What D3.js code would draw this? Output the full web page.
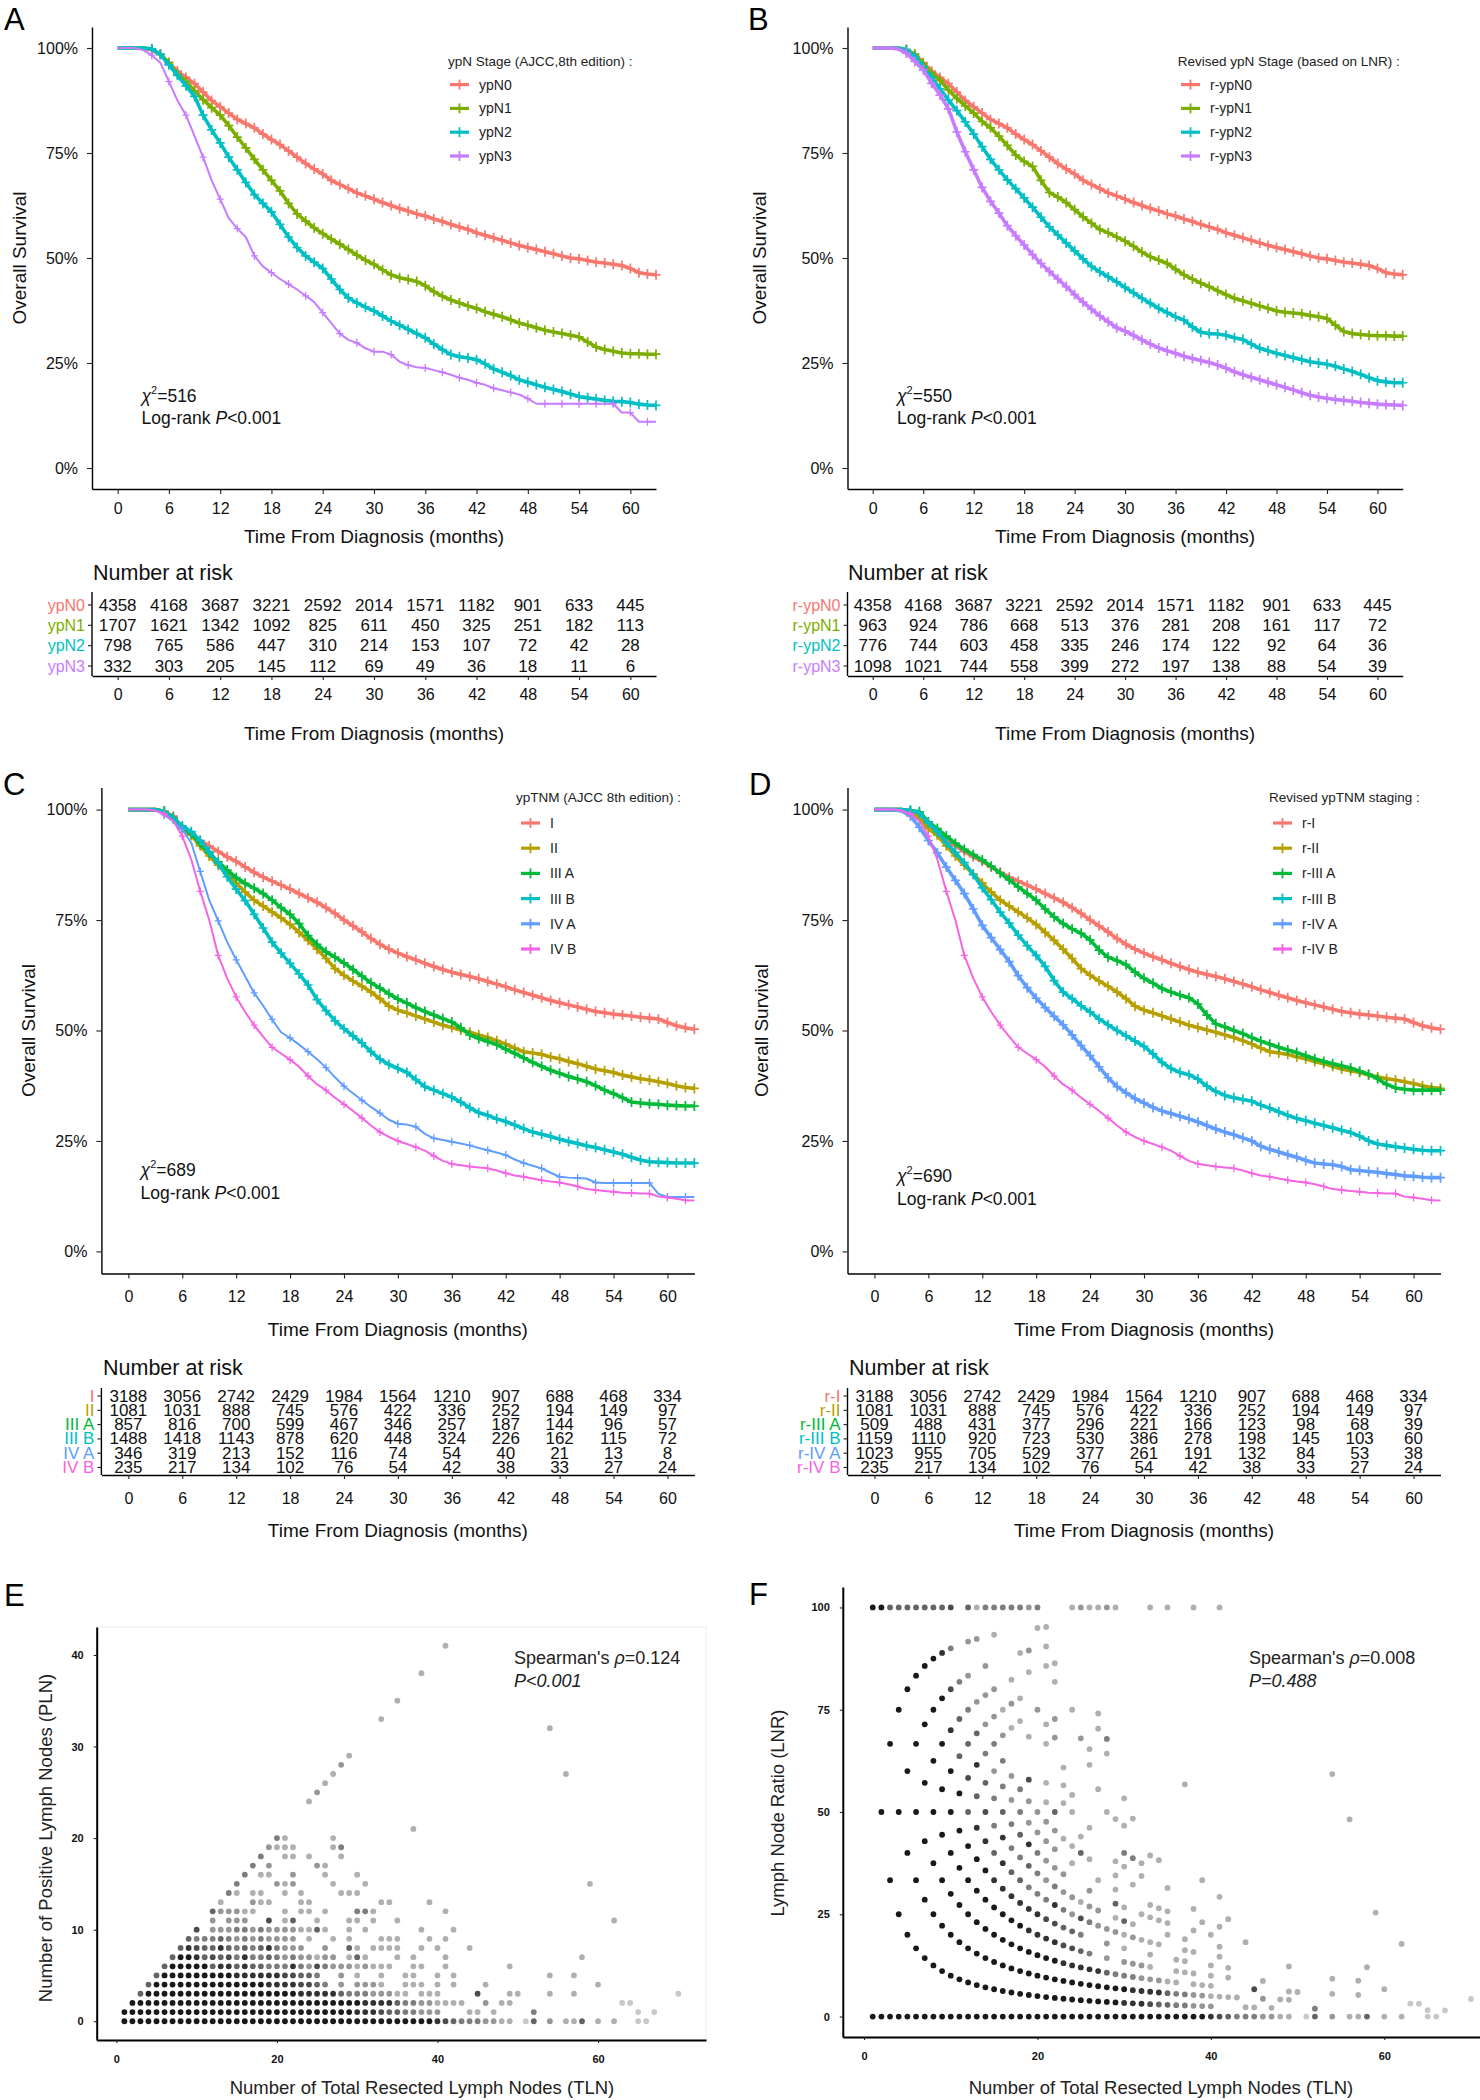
<!DOCTYPE html>
<html><head><meta charset="utf-8">
<script src="https://cdnjs.cloudflare.com/ajax/libs/d3/7.8.5/d3.min.js"></script>
<style>
html,body{margin:0;padding:0;background:#fff;}
svg{display:block;}
svg text{font-family:"Liberation Sans",Arial,Helvetica,sans-serif;}
</style></head><body>
<svg id="fig" width="1480" height="2100" viewBox="0 0 1480 2100"></svg>
<script>
// ================= DATA =================
const monthGrid=[0,1,2,3,4,5,6,7,8,9,10,11,12,13,14,15,16,17,18,19,20,21,22,23,24,25,26,27,28,29,30,31,32,33,34,35,36,37,38,39,40,41,42,43,44,45,46,47,48,49,50,51,52,53,54,55,56,57,58,59,60,61,62,63];
const riskTimes=[0,6,12,18,24,30,36,42,48,54,60];
const survTicks=[0,0.25,0.5,0.75,1];

// Panel A: ypN (AJCC 8th)
const ypNNames=["ypN0","ypN1","ypN2","ypN3"];
const survYpN0=[100,100,100,100,99.5,98.5,96.5,94.5,93,91.5,89.5,87.5,86,84.5,83,82,81,79.5,78.2,77,75.5,74,72.5,71.2,70,68.5,67.5,66.5,65.5,64.8,64,63.2,62.5,61.8,61.2,60.5,60,59.3,58.7,58,57.4,56.8,56,55.4,54.8,54.2,53.6,53,52.5,52,51.5,51,50.5,50,49.8,49.4,49,48.8,48.5,48.2,47.5,46.5,46.2,46];
const survYpN1=[100,100,100,100,99.7,98.5,96.5,93.8,92,89.8,87.7,85.8,84,81.5,78.8,76.2,73.5,71,68.5,66,63,60.5,58.8,57.2,55.8,54.5,53.3,52,50.7,49.5,48.5,47.2,46,45.3,44.9,44.4,43.4,42,40.9,40,39.3,38.6,38,37.2,36.6,36,35.3,34.5,34,33.4,32.8,32.4,32,31.6,31.2,30,28.8,28.2,27.8,27.4,27.2,27.2,27.1,27.1];
const survYpN2=[100,100,100,100,99.8,98.5,96,93.5,91,88.5,84,80.5,77.4,74,71,68,65.1,63,61,58,55,52.5,50.5,49,47.5,45,42.5,40.5,39.3,38.3,37.4,36.2,35,34,33,32,31,29.5,28.2,27,26.5,26.2,25.8,24.8,23.6,22.8,22,21,20.4,19.8,19.2,18.7,18.2,17.6,17,16.7,16.4,16.1,15.9,15.8,15.6,15.2,15,14.9];
const survYpN3=[100,100,100,99.5,98.3,96.5,92,87.5,84,79,74,68.5,64,59.5,57,55,50.5,48,46.5,45,43.8,42.5,41,39.5,37,34.5,32,30.5,29.8,28.5,27.7,27.7,27,25.3,24.5,24,23.8,23.3,22.8,22.2,21.5,21,20.3,19.8,19,18.5,18,17.5,16.5,15.3,15.3,15.3,15.3,15.3,15.3,15.3,15.3,15.3,15.3,13.2,13.2,11,11,11];
const riskYpN0=[4358,4168,3687,3221,2592,2014,1571,1182,901,633,445];
const riskYpN1=[1707,1621,1342,1092,825,611,450,325,251,182,113];
const riskYpN2=[798,765,586,447,310,214,153,107,72,42,28];
const riskYpN3=[332,303,205,145,112,69,49,36,18,11,6];

// Panel B: revised ypN (LNR)
const rypNNames=["r-ypN0","r-ypN1","r-ypN2","r-ypN3"];
const survRYpN0=survYpN0; // identical group (n=4358)
const survRYpN1=[100,100,100,100,99.6,98.5,96.3,94,92.3,90,88,86.2,84.5,82.5,81,79,76.8,74.5,73,71.8,68.5,65.6,64.5,63.2,61.5,59.8,58.3,56.8,56,55,54,52.8,51.4,50.3,49.5,48.7,47.3,46,45,44,43.2,42.2,41.3,40.4,39.8,39.2,38.6,38,37.4,37.1,36.9,36.7,36.3,36,35.6,34,32.5,32,31.8,31.6,31.5,31.5,31.4,31.4];
const survRYpN2=[100,100,100,100,99.6,98,95.6,93,90.3,87.6,85.1,82.4,79.5,76.5,73.5,71,68.6,66.5,64.3,62.1,59.7,57.4,55.5,53.6,51.7,49.8,48,46.7,45.5,44.3,43,41.7,40.4,39.2,38,37,36,35.2,33.6,32.3,32,31.9,31.6,31,30.6,29.5,28.5,27.9,27.3,26.8,26.3,25.8,25.3,25,24.7,24.2,23.6,23,22.3,21.5,20.8,20.5,20.3,20.3];
const survRYpN3=[100,100,100,99.8,98.8,96.8,94.8,91.6,88.8,85.5,80,75.3,71,66.8,63.5,60.7,57.7,55.3,53.1,50.8,48.7,46.8,45,43.2,41.3,39.5,37.8,36.2,34.8,33.4,32.6,31.6,30.5,29.5,28.6,27.9,27.3,26.6,26.1,25.6,25.1,24.5,23.8,22.9,22.2,21.6,21,20.4,19.8,19.2,18.6,17.9,17.3,16.9,16.6,16.3,16.1,15.9,15.6,15.4,15.2,15.1,15,14.9];
const riskRYpN0=[4358,4168,3687,3221,2592,2014,1571,1182,901,633,445];
const riskRYpN1=[963,924,786,668,513,376,281,208,161,117,72];
const riskRYpN2=[776,744,603,458,335,246,174,122,92,64,36];
const riskRYpN3=[1098,1021,744,558,399,272,197,138,88,54,39];

// Panel C: ypTNM (AJCC 8th)
const tnmNames=["I","II","III A","III B","IV A","IV B"];
const survI=[100,100,100,100,99.5,98.5,96,94.6,93,91.8,90.5,89.3,88.3,87,85.8,84.7,83.8,82.9,82,81,80,79,77.8,76.5,75,73.7,72.3,70.8,69.5,68.4,67.5,66.7,66,65.2,64.5,63.8,63.2,62.7,62.2,61.7,61.1,60.5,59.9,59.2,58.6,58,57.4,56.8,56.3,55.8,55.3,54.8,54.3,54,53.7,53.5,53.3,53,52.8,52.6,51.8,51.1,50.6,50.3];
const survII=[100,100,100,100,99.6,98,95.7,94.2,91.8,89.5,87.4,85.4,83.4,81.3,79.5,78.2,76.8,75.5,74,72.2,70.4,68.4,66.3,64,62.5,61.2,60,58.7,57.2,55.5,54.6,54,53.3,52.6,51.9,51.2,50.7,50.1,49.6,49,48.4,47.7,46.9,46,45.2,44.9,44.6,44,43.6,43,42.5,41.9,41.3,40.9,40.5,39.9,39.5,39.1,38.8,38.4,38,37.5,37.1,36.9];
const survIIIA=[100,100,100,100,99.6,98.2,96,94.6,92.3,90.2,88.2,86.3,84.6,83.3,82.2,81,79.5,77.8,76.3,74.2,71.5,69.5,67.8,66.6,65.3,63.8,62.3,60.8,59.6,58.3,57.1,56.2,55.2,54.3,53.5,52.7,51.9,50.6,49,48.2,47.5,46.8,45.8,44.8,43.8,42.8,41.9,41,40.3,39.6,39,38.4,37.5,36.5,35.7,34.8,33.8,33.6,33.4,33.3,33.1,33,32.9,32.9];
const survIIIB=[100,100,100,100,99.5,98,96.3,95,93,90.5,87.8,84.8,82,79.4,76.3,73.2,70,67.5,65.2,62.8,60.3,57,54.5,52.2,50.4,48.8,47.2,45.2,43.5,42.3,41.4,40.5,38.9,37.3,36.5,35.7,34.9,33.8,32.5,31.4,30.8,30,29.4,28.6,27.8,27,26.5,26,25.4,24.9,24.4,23.9,23.5,23,22.5,22,21.3,20.7,20.3,20.2,20.1,20,20,20];
const survIVA=[100,100,100,99.8,98.8,97.3,95.5,92.5,86,79.5,74.8,70,66,62.3,58.5,55.6,52.5,49.6,48.3,46.8,45.2,43.5,41.6,39.4,37.4,35.8,34.2,32.7,31.3,29.8,28.9,28.7,28.2,26.6,25.6,25.2,24.8,24.4,24,23.4,22.9,22.4,21.8,20.8,20,19.4,18.8,17.8,16.9,16.7,16.6,16.5,15.6,15.5,15.5,15.5,15.5,15.5,15.5,13,12.3,12.3,12.3,12.3];
const survIVB=[100,100,100,99.8,99,97.4,94,88.7,81.5,75,67,61.8,57.6,54.2,51.2,48.6,46.2,44.8,43.4,41.8,39.7,37.8,36.5,34.8,33.3,31.8,30.2,28.5,27,25.9,25,24.3,23.6,22.8,21.6,20.5,19.8,19.5,19.2,19,18.8,18.3,17.7,17.2,16.9,16.5,16.1,15.8,15.6,15.2,14.7,14.1,13.9,13.7,13.5,13.3,13.2,13.1,13.1,12.4,12.2,11.9,11.6,11.5];
const riskI=[3188,3056,2742,2429,1984,1564,1210,907,688,468,334];
const riskII=[1081,1031,888,745,576,422,336,252,194,149,97];
const riskIIIA=[857,816,700,599,467,346,257,187,144,96,57];
const riskIIIB=[1488,1418,1143,878,620,448,324,226,162,115,72];
const riskIVA=[346,319,213,152,116,74,54,40,21,13,8];
const riskIVB=[235,217,134,102,76,54,42,38,33,27,24];

// Panel D: revised ypTNM
const rtnmNames=["r-I","r-II","r-III A","r-III B","r-IV A","r-IV B"];
const survRI=survI, survRII=survII, survRIVB=survIVB; // identical groups
const survRIIIA=[100,100,100,100,99.8,99.5,97.2,95.7,94,92.4,91,89.8,88.6,87.2,85.6,84.1,82.5,81,79.5,77.5,75.7,74.2,73,72,70.5,68.2,66.6,65.8,64.9,63.2,61.8,60.7,59.5,58.7,58,57.4,56,53.5,51.5,50.8,50,49.3,48.4,47.6,46.9,46.2,45.6,45,44.3,43.6,43,42.5,42,41.5,40.8,40.1,39.1,37.8,37,36.7,36.5,36.5,36.5,36.5];
const survRIIIB=[100,100,100,100,99.8,99.2,97,95,92.5,90.3,88,85.3,82.3,79.6,76.8,74.3,71.6,69.2,67,64.5,61.3,58.7,57.2,55.6,54.2,52.6,51.3,50,48.8,47.6,46.4,44.7,42.8,41.4,40.5,40,39,37.4,36.2,35.3,34.8,34.4,34,33.1,32.4,31.6,30.8,30.1,29.6,29,28.5,28,27.4,26.9,26.1,25,24.3,24,23.7,23.4,23.1,22.9,22.8,22.8];
const survRIVA=[100,100,100,99.7,98.6,96,93,90.2,87,84,81,77.5,73.8,71,68.3,65.6,62.4,59.7,57.3,55.2,53.2,51.3,49,46.6,44.3,41.8,39.3,37.3,35.9,34.6,33.6,32.6,31.8,31.2,30.6,30,29.3,28.5,27.7,27,26.4,25.7,25,23.8,23.1,22.5,21.9,21.3,20.6,20,19.8,19.6,19.2,18.5,18.3,18.1,17.9,17.6,17.4,17.1,17,16.8,16.7,16.7];
const riskRI=[3188,3056,2742,2429,1984,1564,1210,907,688,468,334];
const riskRII=[1081,1031,888,745,576,422,336,252,194,149,97];
const riskRIIIA=[509,488,431,377,296,221,166,123,98,68,39];
const riskRIIIB=[1159,1110,920,723,530,386,278,198,145,103,60];
const riskRIVA=[1023,955,705,529,377,261,191,132,84,53,38];
const riskRIVB=[235,217,134,102,76,54,42,38,33,27,24];

// Panels E/F: patients per (TLN, PLN) cell; each row string is TLN 1..70, digit = density level
const densePLN=[0,1,2,3,4,5,6,7,8,9,10,11,12,13,14,15,16,17,18,19,20];
const denseTLNPatterns=[
 ["9999999999","9999999999","9999999999","9999999998","765554433.","26.4.336.3",".3..22...."],
 ["9999999999","9999999999","9999999998","8876655444","...33.3...",".5........","....2.2..."],
 [".999999999","9999999999","9999999999","8888655443","333..4.33.","..........","..22......"],
 ["..69999999","9999999999","9988888655","544433.333","....7...33","...3..3...",".........2"],
 ["...6999999","9999999988","887765.4.4","443..333.3",".3...3....",".........3"],
 ["....699999","9999888888","77665..4.3","..3..33..3",".3........","...3..3..."],
 [".....69999","9688686655","5854754443","4333..33..","3.......3."],
 ["......6998","6767585565","4544344.36","3...3.3...","3.........",".......3.."],
 [".......687","6686565685","444..4..63",".3333..3.3","...3......"],
 ["........65","5565454544","44.3..3.3.","..333...3.","3........."],
 [".........7",".444554544","443363..3.","3......3..",".3........"],
 ["..........",".4.444..7.","36..3...33",".3..3.....","..........","..........",".3........"],
 ["..........",".644433...","3.33.3...5","53........","3........."],
 ["..........","..3...433.","..33......","..33....3."],
 ["..........","...53.33..","3.3....333"],
 ["..........","....5....4","34....3...","3.........","..........","........3."],
 ["..........",".....5.33.",".4...3...3"],
 ["..........","......5.4.","....43...."],
 ["..........",".......5..","33.3...3.."],
 ["..........","........43","33....35.."],
 ["..........",".........5","3.....3..."]
];
// sparse cells: [TLN, PLN, level]
const sparseCells=[[37,21,3],[24,24,3],[25,25,4],[26,26,3],[27,27,3],[56,27,3],[28,28,4],[29,29,3],[54,32,3],[33,33,3],[35,35,3],[38,38,3],[41,41,3]];
const eTicksX=[0,20,40,60], eTicksY=[0,10,20,30,40], fTicksY=[0,25,50,75,100];

// ================= STYLE =================
const hue4=["#F8766D","#7CAE00","#00BFC4","#C77CFF"];
const hue6=["#F8766D","#B79F00","#00BA38","#00BFC4","#619CFF","#F564E3"];
const FONT='"Liberation Sans",Arial,Helvetica,sans-serif';
const svg=d3.select("#fig");
svg.append("rect").attr("width",1480).attr("height",2100).attr("fill","#fff");

function styleAxis(s,fs,lw,bold){
  s.attr("font-family",FONT).attr("font-size",fs);
  s.select(".domain").attr("stroke","#000").attr("stroke-width",lw||1.4);
  s.selectAll(".tick line").attr("stroke","#222").attr("stroke-width",1.1);
  s.selectAll(".tick text").attr("fill","#111").attr("font-weight",bold?"bold":"normal");
}

function kmPanel(o){
  const g=svg.append("g");
  const x=d3.scaleLinear().domain([-3,63]).range([o.left,o.right]);
  const y=d3.scaleLinear().domain([-0.05,1.05]).range([o.bottom,o.top]);
  g.append("g").attr("transform",`translate(0,${o.bottom})`)
    .call(d3.axisBottom(x).tickValues(riskTimes).tickSize(5).tickSizeOuter(0).tickPadding(o.xPad))
    .call(s=>styleAxis(s,16));
  g.append("g").attr("transform",`translate(${o.left},0)`)
    .call(d3.axisLeft(y).tickValues(survTicks).tickFormat(d3.format(".0%")).tickSize(5).tickSizeOuter(0).tickPadding(9))
    .call(s=>styleAxis(s,16));
  g.append("text").attr("x",(o.left+o.right)/2).attr("y",o.xTitleY).attr("text-anchor","middle")
    .attr("dominant-baseline","central").attr("font-size",19).attr("fill","#111").text("Time From Diagnosis (months)");
  g.append("text").attr("transform",`translate(${o.yTitleX},${(o.top+o.bottom)/2}) rotate(-90)`)
    .attr("text-anchor","middle").attr("dominant-baseline","central").attr("font-size",19).attr("fill","#111").text("Overall Survival");
  g.append("text").attr("x",o.letterX).attr("y",o.letterY).attr("font-size",31).attr("fill","#000").text(o.letter);

  const line=d3.line().x(d=>x(d[0])).y(d=>y(d[1]/100));
  o.series.forEach((s,i)=>{
    const col=o.colors[i];
    const pts=monthGrid.map((m,j)=>[m,s.values[j]]);
    g.append("path").datum(pts).attr("d",line).attr("fill","none").attr("stroke",col)
      .attr("stroke-width",s.thin?2:3.6).attr("stroke-linejoin","round");
    const marks=pts.filter(d=>d[0]>=4 && (!s.thin || d[0]%2===0));
    g.append("g").selectAll("path").data(marks).join("path")
      .attr("transform",d=>`translate(${x(d[0])},${y(d[1]/100)})`)
      .attr("d",s.thin?"M-3.5,0H3.5M0,-4V4":"M-4.5,0H4.5M0,-5V5").attr("stroke",col).attr("stroke-width",s.thin?1.3:1.7).attr("fill","none");
  });
  // legend
  const lg=g.append("g");
  lg.append("text").attr("x",o.legX).attr("y",o.legTitleY).attr("dominant-baseline","central")
    .attr("font-size",13.5).attr("fill","#222").text(o.legTitle);
  o.series.forEach((s,i)=>{
    const yy=o.legY0+i*o.legStep, col=o.colors[i];
    lg.append("line").attr("x1",o.keyX).attr("x2",o.keyX+19).attr("y1",yy).attr("y2",yy).attr("stroke",col).attr("stroke-width",3.2);
    lg.append("line").attr("x1",o.keyX+9.5).attr("x2",o.keyX+9.5).attr("y1",yy-5).attr("y2",yy+5).attr("stroke",col).attr("stroke-width",1.8);
    lg.append("text").attr("x",o.keyX+29).attr("y",yy).attr("dominant-baseline","central")
      .attr("font-size",14).attr("fill","#222").text(s.name);
  });
  // statistics
  const t1=g.append("text").attr("x",o.statX).attr("y",o.statY1).attr("dominant-baseline","central").attr("font-size",17.5).attr("fill","#111");
  t1.append("tspan").attr("font-style","italic").text("χ");
  t1.append("tspan").attr("font-size",11).attr("dy",-6).text("2");
  t1.append("tspan").attr("dy",6).text("="+o.chi);
  const t2=g.append("text").attr("x",o.statX).attr("y",o.statY2).attr("dominant-baseline","central").attr("font-size",17.5).attr("fill","#111");
  t2.append("tspan").text("Log-rank ");
  t2.append("tspan").attr("font-style","italic").text("P");
  t2.append("tspan").text("<0.001");
}

function riskTable(o){
  const g=svg.append("g");
  const x=d3.scaleLinear().domain([-3,63]).range([o.left,o.right]);
  const y=d3.scalePoint().domain(o.names).range([o.rowTop,o.rowBottom]);
  g.append("text").attr("x",o.titleX).attr("y",o.titleY).attr("dominant-baseline","central")
    .attr("font-size",21.5).attr("fill","#111").text("Number at risk");
  g.append("g").attr("transform",`translate(0,${o.axisY})`)
    .call(d3.axisBottom(x).tickValues(riskTimes).tickSize(4).tickSizeOuter(0).tickPadding(o.xPad))
    .call(s=>styleAxis(s,16));
  g.append("line").attr("x1",o.left).attr("x2",o.left).attr("y1",o.top).attr("y2",o.axisY).attr("stroke","#000").attr("stroke-width",1.4);
  o.names.forEach((nm,i)=>{
    const yy=y(nm);
    g.append("line").attr("x1",o.left-4).attr("x2",o.left).attr("y1",yy).attr("y2",yy).attr("stroke","#222").attr("stroke-width",1.1);
    g.append("text").attr("x",o.left-7).attr("y",yy).attr("text-anchor","end").attr("dominant-baseline","central")
      .attr("font-size",o.labelFs).attr("fill",o.colors[i]).text(nm);
    g.append("g").selectAll("text").data(o.counts[i]).join("text")
      .attr("x",(d,j)=>x(riskTimes[j])).attr("y",yy).attr("text-anchor","middle").attr("dominant-baseline","central")
      .attr("font-size",o.fs).attr("fill","#111").text(d=>d);
  });
  g.append("text").attr("x",(o.left+o.right)/2).attr("y",o.xTitleY).attr("text-anchor","middle")
    .attr("dominant-baseline","central").attr("font-size",19).attr("fill","#111").text("Time From Diagnosis (months)");
}

// build scatter cells
const scatterCells=[];
densePLN.forEach((p,i)=>{
  const s=denseTLNPatterns[i].join("");
  for(let k=0;k<s.length;k++){ const c=s[k]; if(c!==".") scatterCells.push({tln:k+1,pln:p,level:+c}); }
});
sparseCells.forEach(([t,p,l])=>scatterCells.push({tln:t,pln:p,level:l}));
scatterCells.sort((a,b)=>a.level-b.level);

function scatterPanel(o){
  const g=svg.append("g");
  const x=d3.scaleLinear().domain([-2.45,73.45]).range([o.left,o.right]);
  const y=d3.scaleLinear().domain(o.yDomain).range([o.bottom,o.top]);
  if(o.frame) g.append("rect").attr("x",o.left).attr("y",o.top).attr("width",o.right-o.left).attr("height",o.bottom-o.top)
    .attr("fill","none").attr("stroke","#eeeeee").attr("stroke-width",1);
  g.append("g").selectAll("circle").data(scatterCells).join("circle")
    .attr("cx",d=>x(d.tln)).attr("cy",d=>y(o.yValue(d))).attr("r",2.9)
    .attr("fill",d=>{const v=250-25*d.level; return d3.rgb(v,v,v).toString();});
  g.append("g").attr("transform",`translate(0,${o.bottom})`)
    .call(d3.axisBottom(x).tickValues(eTicksX).tickSize(3).tickSizeOuter(0).tickPadding(12))
    .call(s=>styleAxis(s,11,2,true));
  g.append("g").attr("transform",`translate(${o.left},0)`)
    .call(d3.axisLeft(y).tickValues(o.yTicks).tickSize(3).tickSizeOuter(0).tickPadding(10))
    .call(s=>styleAxis(s,11,2,true));
  g.append("text").attr("x",o.xTitleX).attr("y",o.xTitleY).attr("text-anchor","middle").attr("dominant-baseline","central")
    .attr("font-size",18.5).attr("fill","#222").text("Number of Total Resected Lymph Nodes (TLN)");
  g.append("text").attr("transform",`translate(${o.yTitleX},${o.yTitleY}) rotate(-90)`).attr("text-anchor","middle")
    .attr("dominant-baseline","central").attr("font-size",18.5).attr("fill","#222").text(o.yTitle);
  g.append("text").attr("x",o.letterX).attr("y",o.letterY).attr("font-size",31).attr("fill","#000").text(o.letter);
  const a1=g.append("text").attr("x",o.statX).attr("y",o.statY1).attr("dominant-baseline","central").attr("font-size",18).attr("fill","#222");
  a1.append("tspan").text("Spearman's ");
  a1.append("tspan").attr("font-style","italic").text("ρ");
  a1.append("tspan").text("="+o.rho);
  g.append("text").attr("x",o.statX).attr("y",o.statY2).attr("dominant-baseline","central").attr("font-size",18)
    .attr("font-style","italic").attr("fill","#222").text(o.pText);
}

// ================= DRAW =================
kmPanel({letter:"A",letterX:4,letterY:30,left:92,right:656,top:27,bottom:489,xPad:9,xTitleY:536,yTitleX:19,
  colors:hue4,legTitle:"ypN Stage (AJCC,8th edition) :",legX:448,legTitleY:61,keyX:450,legY0:84.6,legStep:23.8,
  statX:141.5,statY1:396,statY2:418,chi:"516",
  series:[{name:ypNNames[0],values:survYpN0},{name:ypNNames[1],values:survYpN1},{name:ypNNames[2],values:survYpN2},{name:ypNNames[3],values:survYpN3,thin:true}]});
kmPanel({letter:"B",letterX:748,letterY:30,left:847.5,right:1402.7,top:27,bottom:489,xPad:9,xTitleY:536,yTitleX:759,
  colors:hue4,legTitle:"Revised ypN Stage (based on LNR) :",legX:1177.7,legTitleY:61,keyX:1181,legY0:84.6,legStep:23.8,
  statX:897,statY1:396,statY2:418,chi:"550",
  series:[{name:rypNNames[0],values:survRYpN0},{name:rypNNames[1],values:survRYpN1},{name:rypNNames[2],values:survRYpN2},{name:rypNNames[3],values:survRYpN3}]});
riskTable({left:92,right:656,top:592,axisY:676,rowTop:605,rowBottom:666,titleX:93,titleY:573,xTitleY:733,xPad:9,fs:17,labelFs:16,
  names:ypNNames,colors:hue4,counts:[riskYpN0,riskYpN1,riskYpN2,riskYpN3]});
riskTable({left:847.5,right:1402.7,top:592,axisY:676,rowTop:605,rowBottom:666,titleX:848,titleY:573,xTitleY:733,xPad:9,fs:17,labelFs:16,
  names:rypNNames,colors:hue4,counts:[riskRYpN0,riskRYpN1,riskRYpN2,riskRYpN3]});

kmPanel({letter:"C",letterX:3,letterY:795,left:101.4,right:694.4,top:787.5,bottom:1273.5,xPad:12,xTitleY:1329,yTitleX:28,
  colors:hue6,legTitle:"ypTNM (AJCC 8th edition) :",legX:516,legTitleY:797,keyX:521,legY0:823,legStep:25.2,
  statX:140.6,statY1:1170,statY2:1193,chi:"689",
  series:[{name:tnmNames[0],values:survI},{name:tnmNames[1],values:survII},{name:tnmNames[2],values:survIIIA},{name:tnmNames[3],values:survIIIB},{name:tnmNames[4],values:survIVA,thin:true},{name:tnmNames[5],values:survIVB,thin:true}]});
kmPanel({letter:"D",letterX:749,letterY:795,left:847.5,right:1440.5,top:787.5,bottom:1273.5,xPad:12,xTitleY:1329,yTitleX:761,
  colors:hue6,legTitle:"Revised ypTNM staging :",legX:1269,legTitleY:797,keyX:1273,legY0:823,legStep:25.2,
  statX:897,statY1:1176,statY2:1199,chi:"690",
  series:[{name:rtnmNames[0],values:survRI},{name:rtnmNames[1],values:survRII},{name:rtnmNames[2],values:survRIIIA},{name:rtnmNames[3],values:survRIIIB},{name:rtnmNames[4],values:survRIVA},{name:rtnmNames[5],values:survRIVB,thin:true}]});
riskTable({left:101.4,right:694.4,top:1388,axisY:1475,rowTop:1396,rowBottom:1467.5,titleX:103,titleY:1368,xTitleY:1530,xPad:14,fs:17,labelFs:17,
  names:tnmNames,colors:hue6,counts:[riskI,riskII,riskIIIA,riskIIIB,riskIVA,riskIVB]});
riskTable({left:847.5,right:1440.5,top:1388,axisY:1475,rowTop:1396,rowBottom:1467.5,titleX:849,titleY:1368,xTitleY:1530,xPad:14,fs:17,labelFs:17,
  names:rtnmNames,colors:hue6,counts:[riskRI,riskRII,riskRIIIA,riskRIIIB,riskRIVA,riskRIVB]});

scatterPanel({letter:"E",letterX:4,letterY:1606,left:96.7,right:706,top:1627,bottom:2040,frame:true,
  yDomain:[-2.05,43.05],yTicks:eTicksY,yValue:d=>d.pln,
  xTitleX:422,xTitleY:2087,yTitleX:45,yTitleY:1838,yTitle:"Number of Positive Lymph Nodes (PLN)",
  statX:514,statY1:1658,statY2:1680.5,rho:"0.124",pText:"P<0.001"});
scatterPanel({letter:"F",letterX:749,letterY:1605,left:842.8,right:1500.9,top:1587,bottom:2037,frame:false,
  yDomain:[-5,105],yTicks:fTicksY,yValue:d=>d.pln/d.tln*100,
  xTitleX:1161,xTitleY:2087,yTitleX:777.7,yTitleY:1813,yTitle:"Lymph Node Ratio (LNR)",
  statX:1249,statY1:1658,statY2:1680.5,rho:"0.008",pText:"P=0.488"});
</script>
</body></html>
